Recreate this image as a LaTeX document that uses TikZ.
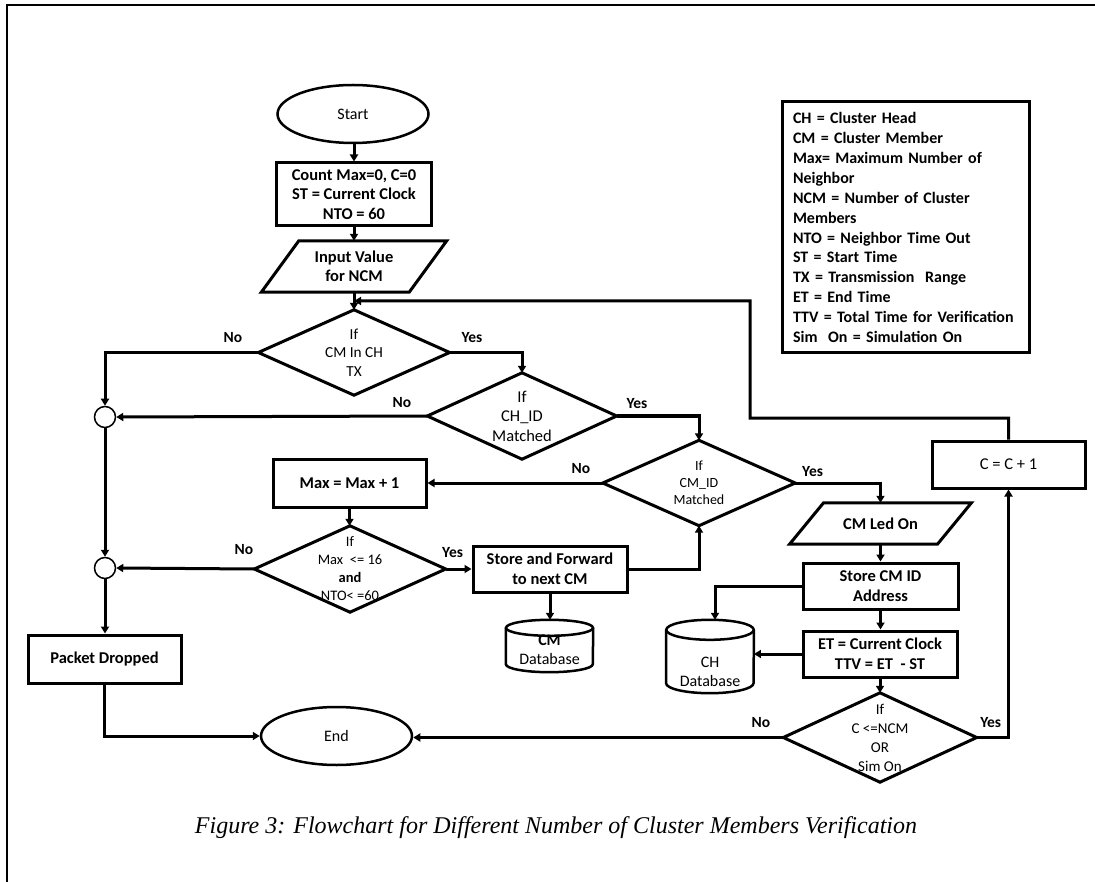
\documentclass[tikz,border=0pt]{standalone}
\usepackage{fontspec}
\setmainfont{Carlito}
\newfontfamily\capfont{Liberation Serif}
\usetikzlibrary{shapes.geometric,arrows.meta,calc}
\newcommand{\bxfont}{\fontsize{16.5}{19.5}\selectfont\bfseries}
\newcommand{\lblfont}{\fontsize{15.5}{18}\selectfont\bfseries}
\begin{document}
\begin{tikzpicture}[x=1pt,y=-1pt,
  ln/.style={line width=3pt},
  arr/.style={line width=3pt,-{Triangle[length=7pt,width=8pt]}},
  bx/.style={draw,line width=3pt,rectangle,inner sep=0pt,align=center,font=\bxfont},
  oval/.style={draw,line width=2.5pt,ellipse,inner sep=0pt,minimum width=151pt,minimum height=58pt,font=\fontsize{16}{19}\selectfont},
  shp/.style={rectangle,inner sep=0pt,align=center},
  circ/.style={circle,draw,line width=1.5pt,minimum size=21pt,inner sep=0pt},
  lbl/.style={inner sep=0pt,font=\lblfont},
  dbt/.style={inner sep=0pt,align=center,font=\fontsize{16}{19.5}\selectfont}
]
\useasboundingbox (0,0) rectangle (1095,882);
% frame
\draw[line width=2.5pt] (1095,5) -- (7,5) -- (7,882);

% nodes
\node[oval] (start) at (353,114) {Start};
\node[bx,minimum width=155pt,minimum height=63pt] (init) at (354,194.5) {Count Max=0, C=0\\ST = Current Clock\\NTO = 60};
\node[shp,minimum width=147.5pt,minimum height=51pt,font=\bxfont] (inp) at (354,266.5) {Input Value\\for NCM};
\node[shp,minimum width=191pt,minimum height=85pt,font=\fontsize{15.3}{18.5}\selectfont] (d1) at (354,352.5) {If\\CM In CH\\TX};
\node[shp,minimum width=189pt,minimum height=86pt,font=\fontsize{16.5}{19.5}\selectfont] (d2) at (522,416) {If\\CH\_ID\\Matched};
\node[shp,minimum width=192pt,minimum height=85pt,font=\fontsize{14}{17}\selectfont] (d3) at (699,483) {If\\CM\_ID\\Matched};
\node[bx,minimum width=153pt,minimum height=48pt] (maxb) at (349.5,483) {Max = Max + 1};
\node[shp,minimum width=191pt,minimum height=86pt,font=\fontsize{14.5}{18}\selectfont] (d5) at (350,569) {If\\Max\ \ <= 16\\\textbf{and}\\NTO< =60};
\node[circ] (c1) at (105,417) {};
\node[circ] (c2) at (105,568) {};
\node[bx,minimum width=153pt,minimum height=48pt] (pd) at (104.5,659) {Packet Dropped};
\node[oval] (end) at (336.5,736) {End};
\node[bx,minimum width=154pt,minimum height=46pt] (sf) at (550,569) {Store and Forward\\to next CM};
\node[shp,minimum width=87pt,minimum height=52pt] (cmdb) at (549.5,646) {};
\node[dbt] (cmdbt) at (549.5,650) {\textbf{CM}\\Database};
\node[shp,minimum width=147.5pt,minimum height=41pt,font=\bxfont] (led) at (880.5,523.5) {CM Led On};
\node[bx,minimum width=155pt,minimum height=46pt] (scm) at (880.5,586) {Store CM ID\\Address};
\node[shp,minimum width=87.5pt,minimum height=73pt] (chdb) at (710,656.5) {};
\node[dbt] (chdbt) at (710,672) {CH\\Database};
\node[bx,minimum width=154pt,minimum height=46pt] (et) at (880,654) {ET = Current Clock\\TTV = ET \ - ST};
\node[shp,minimum width=193pt,minimum height=89pt,font=\fontsize{15}{19}\selectfont] (d4) at (880,737.5) {If\\C <=NCM\\OR\\Sim On};
\node[bx,font=\fontsize{16.5}{19.5}\selectfont,minimum width=153pt,minimum height=47pt] (cinc) at (1008.5,464.5) {C = C + 1};
\node[draw,line width=3pt,rectangle,minimum width=247pt,minimum height=251pt,inner xsep=11pt,inner ysep=0pt,text width=225pt,align=left,font=\fontsize{16}{19.9}\selectfont\bfseries] (legend) at (905.5,227.5)
 {CH = Cluster Head\\CM = Cluster Member\\Max= Maximum Number of\\Neighbor\\NCM = Number of Cluster\\Members\\NTO = Neighbor Time Out\\ST = Start Time\\TX = Transmission\ \ Range\\ET = End Time\\\mbox{TTV = Total Time for Verification}\\Sim\ \ On = Simulation On};
\node[inner sep=0pt,font=\capfont\itshape\fontsize{24}{28}\selectfont] (cap) at (556,828) {Figure 3: Flowchart for Different Number of Cluster Members Verification};

% shapes drawn through node anchors
\foreach \d in {d1,d2,d3,d4,d5}{
  \draw[ln] (\d.north) -- (\d.east) -- (\d.south) -- (\d.west) -- cycle;
}
\draw[ln] ([xshift=-18.75pt]inp.south west) -- ([xshift=-18.75pt]inp.south east) -- ([xshift=18.75pt]inp.north east) -- ([xshift=18.75pt]inp.north west) -- cycle;
\draw[ln] ([xshift=-17pt]led.south west) -- ([xshift=-17pt]led.south east) -- ([xshift=17pt]led.north east) -- ([xshift=17pt]led.north west) -- cycle;
% cylinders
\draw[line width=2.5pt] ([yshift=-8pt]cmdb.north) ellipse [x radius=43.5pt,y radius=8pt];
\draw[line width=2.5pt] ([yshift=-8pt]cmdb.north west) -- ([yshift=8pt]cmdb.south west) arc[start angle=180,end angle=360,x radius=43.5pt,y radius=8pt] -- ([yshift=-8pt]cmdb.north east);
\draw[line width=2.5pt] ([yshift=-10pt]chdb.north) ellipse [x radius=43.75pt,y radius=10pt];
\draw[line width=2.5pt] ([yshift=-10pt]chdb.north west) -- ([yshift=10pt]chdb.south west) arc[start angle=180,end angle=360,x radius=43.75pt,y radius=10pt] -- ([yshift=-10pt]chdb.north east);

% connectors
\coordinate (j1) at ($(inp.south)!0.5!(d1.north)$);
\draw[arr] (start.south -| init.north) -- (init.north);
\draw[arr] (init.south) -- (inp.north);
\draw[arr] (inp.south) -- (d1.north);
\draw[arr] (cinc.north) -- (cinc.north |- 0,418) -- (750,418) -- (750,301) -- (j1);
\draw[arr] (d1.east) -| (d2.north);
\draw[arr] (d1.west) -| (c1.north);
\draw[arr] (d2.west) -- (c1.east);
\draw[arr] (d2.east) -| (d3.north);
\draw[arr] (d3.west) -- (maxb.east);
\draw[arr] (d3.east) -| (led.north);
\draw[arr] (maxb.south) -- (maxb.south |- d5.north);
\draw[arr] (d5.west) -- (c2.east);
\draw[arr] (d5.east) -- (sf.west);
\draw[arr] (c1.south) -- (c2.north);
\draw[arr] (c2.south) -- (c2.south |- pd.north);
\draw[arr] (pd.south) |- (end.west);
\draw[arr] (sf.east) -| (d3.south);
\draw[arr] (sf.south) -- (sf.south |- cmdb.north);
\draw[arr] (led.south) -- (scm.north);
\draw[arr] (scm.west) -| ([xshift=5pt]chdb.north);
\draw[arr] (scm.south) -- (scm.south |- et.north);
\draw[arr] (et.west) -- (et.west -| chdb.east);
\draw[arr] (et.south) -- (d4.north);
\draw[arr] (d4.west) -- (d4.west -| end.east);
\draw[arr] (d4.east) -| (cinc.south);

% labels
\node[lbl] (n1) at (233,338) {No};
\node[lbl] (y1) at (472,338) {Yes};
\node[lbl] (n2) at (402,403) {No};
\node[lbl] (y2) at (637,404) {Yes};
\node[lbl] (n3) at (581,469) {No};
\node[lbl] (y3) at (812.6,472) {Yes};
\node[lbl] (n5) at (244,550) {No};
\node[lbl] (y5) at (452.6,553) {Yes};
\node[lbl] (n4) at (761,723) {No};
\node[lbl] (y4) at (990.7,723) {Yes};
\end{tikzpicture}
\end{document}
